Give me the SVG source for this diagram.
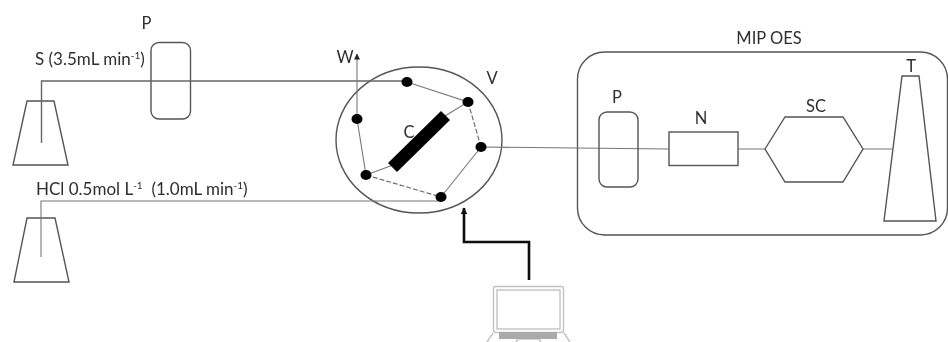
<svg xmlns="http://www.w3.org/2000/svg" width="948" height="342" viewBox="0 0 948 342">
<style>
text{font-family:"Lato","Open Sans","Liberation Sans",sans-serif;font-size:16.500px;fill:#2e2e2e}
.m{text-anchor:middle}
.s{fill:none;stroke:#555;stroke-width:1.4}
.w{fill:#fff;stroke:#555;stroke-width:1.4}
.t{fill:none;stroke:#777;stroke-width:1.1}
.u{fill:none;stroke:#666;stroke-width:1.4}
.d{fill:none;stroke:#666;stroke-width:1.1;stroke-dasharray:5 2}
.dot{fill:#000}
.lap{fill:none;stroke:#c2c2c2;stroke-width:1.4}
.big{font-size:17px}
</style>
<defs>
<filter id="soft" x="-2%" y="-2%" width="104%" height="104%"><feGaussianBlur stdDeviation="0.45"/></filter>
<marker id="a" viewBox="0 0 6 6" refX="5.500" refY="3" markerWidth="6" markerHeight="6" orient="auto" markerUnits="userSpaceOnUse"><path d="M0 0L6 3L0 6Z" fill="#222"/></marker>
<marker id="b" viewBox="0 0 6 6" refX="5.500" refY="3" markerWidth="7" markerHeight="7" orient="auto" markerUnits="userSpaceOnUse"><path d="M0 0L6 3L0 6Z" fill="#111"/></marker>
</defs>
<rect width="948" height="342" fill="#fff"/>
<g filter="url(#soft)">
<g id="flask-s"><path class="s" d="M27 101H54L68 165H13Z"/></g>
<g id="flask-hcl"><path class="s" d="M27 218H55L69 282H14Z"/></g>
<g id="pump-left"><rect class="s" x="151" y="42.500" width="39.500" height="76.500" rx="8"/><text class="m" x="146.500" y="29">P</text></g>
<g id="valve">
<ellipse class="s" cx="419" cy="140" rx="83" ry="73"/>
<text x="492" y="84" class="m">V</text>
<text x="409" y="138" class="m">C</text>
<text x="345" y="63" class="m">W</text>
</g>
<g id="mip-oes"><rect class="s" x="577.500" y="52" width="370" height="183" rx="27"/><text class="m" x="769" y="44">MIP OES</text></g>
<g id="connectors">
<path class="u" d="M41.500 143V81H407"/>
<path class="t" d="M41 257V201H441"/>
<path class="t" d="M407 82L468 102L445 116M393 165L366 175L357 119M441 197L481 147"/>
<path class="d" d="M468 102L481 147M366 175L441 197"/>
<path class="t" d="M357 119V54" marker-end="url(#a)"/>
<path class="t" d="M481 147L669 149M738 149H765M863 149H892"/>
<path d="M529 280V242H464V208" fill="none" stroke="#111" stroke-width="2.600" marker-end="url(#b)"/>
</g>
<g id="column"><path d="M388 163L397 172L450 120L441 111Z" fill="#000"/></g>
<g id="ports">
<ellipse class="dot" cx="407" cy="82" rx="5.500" ry="5"/>
<ellipse class="dot" cx="468" cy="102" rx="5.500" ry="5"/>
<ellipse class="dot" cx="481" cy="147" rx="5.500" ry="5"/>
<ellipse class="dot" cx="441" cy="197" rx="5.500" ry="5"/>
<ellipse class="dot" cx="366" cy="175" rx="5.500" ry="5"/>
<ellipse class="dot" cx="357" cy="119" rx="5.500" ry="5"/>
</g>
<g id="pump-right"><rect class="s" x="599" y="112" width="39" height="75" rx="8"/><text class="m" x="617" y="103">P</text></g>
<g id="nebulizer"><rect class="s" x="669" y="132" width="69" height="33.500"/><text class="m" x="701" y="124">N</text></g>
<g id="spray-chamber"><path class="s" d="M765 149L785 117H843L863 149L843 182H785Z"/><text class="m" x="816" y="112">SC</text></g>
<g id="torch"><path class="w" d="M902 76H919L936 221H884Z"/><text class="m" x="911" y="72">T</text></g>
<g id="label-s"><text class="big" x="35" y="65">S (3.5mL min<tspan font-size="10" dy="-6">-1</tspan><tspan dy="6">)</tspan></text></g>
<g id="label-hcl"><text class="big" x="36" y="195">HCl 0.5mol L<tspan font-size="10" dy="-6">-1</tspan><tspan dy="6" xml:space="preserve">  (1.0mL min</tspan><tspan font-size="10" dy="-6">-1</tspan><tspan dy="6">)</tspan></text></g>
<g id="laptop">
<rect class="lap" x="493.500" y="286.500" width="70" height="46" rx="2"/>
<rect class="lap" x="497" y="290" width="63" height="39"/>
<path class="lap" d="M493 333L487 342M564 333L570 342M516 342L518 339H539L541 342"/>
<rect x="499" y="332" width="58" height="7" fill="#aaa"/>
</g>
</g>
</svg>
